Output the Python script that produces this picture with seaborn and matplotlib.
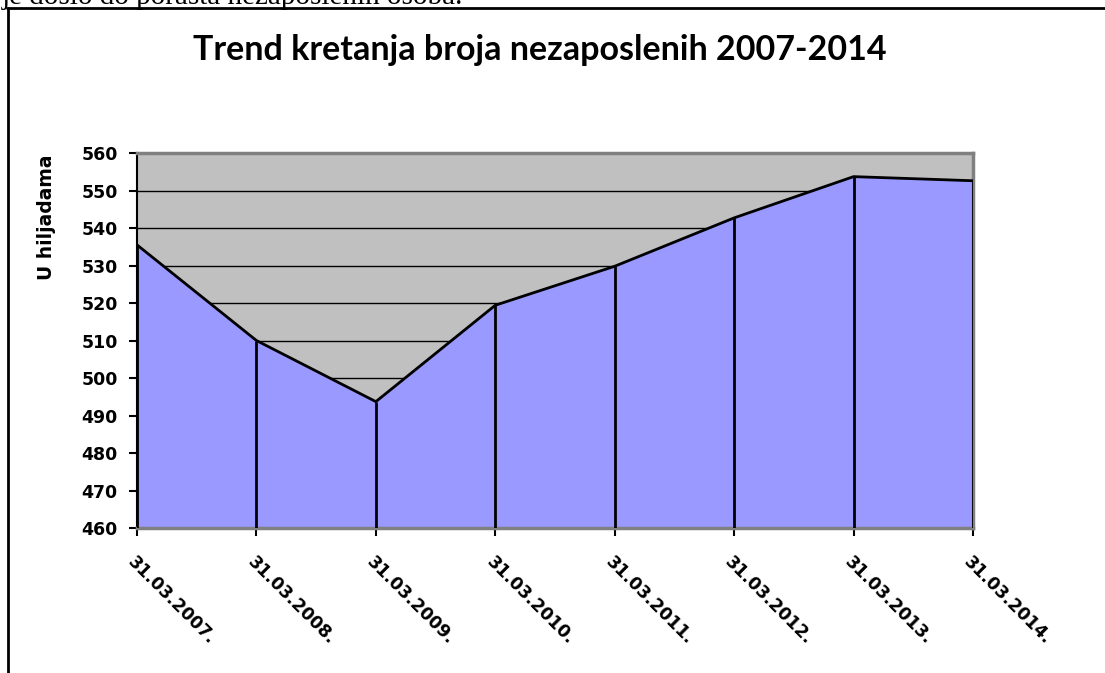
import matplotlib
matplotlib.use("Agg")
import matplotlib.pyplot as plt
import seaborn as sns
import pandas as pd
from matplotlib.lines import Line2D

dates = ["31.03.2007.", "31.03.2008.", "31.03.2009.", "31.03.2010.",
         "31.03.2011.", "31.03.2012.", "31.03.2013.", "31.03.2014."]
values = [535.5, 510.0, 493.7, 519.4, 529.8, 542.7, 553.7, 552.6]
y_ticks = [460, 470, 480, 490, 500, 510, 520, 530, 540, 550, 560]

title = "Trend kretanja broja nezaposlenih 2007-2014"
ylabel = "U hiljadama"
top_text = "je došlo do porasta nezaposlenih osoba."

sns.set_theme(style="white")
plt.rcParams['font.family'] = ['DejaVu Sans']
plt.rcParams['text.color'] = 'black'
plt.rcParams['xtick.color'] = 'black'
plt.rcParams['ytick.color'] = 'black'
plt.rcParams['axes.labelcolor'] = 'black'

df = pd.DataFrame({"pos": list(range(len(dates))), "value": values})

fig = plt.figure(figsize=(11.05, 6.73), dpi=100)
ax = fig.add_axes([137/1105, 1-528/673, (973-137)/1105, (528-153)/673])
ax.set_facecolor("#C0C0C0")

# gridlines behind the fill
for t in y_ticks[1:-1]:
    ax.axhline(t, color="black", lw=1.0, zorder=1)

ax.fill_between(df["pos"], df["value"], y_ticks[0], color="#9999FF", zorder=2, lw=0)
ax.vlines(df["pos"], y_ticks[0], df["value"], color="black", lw=2, zorder=3)
sns.lineplot(data=df, x="pos", y="value", color="black", lw=2, ax=ax, zorder=4)

ax.set_xlim(0, len(dates) - 1)
ax.set_ylim(y_ticks[0], y_ticks[-1])
ax.set_yticks(y_ticks)
ax.set_yticklabels([str(t) for t in y_ticks], fontsize=12.5, fontweight="bold")
ax.set_xticks(df["pos"])
ax.set_xticklabels(dates, rotation=-45, ha="left", va="top",
                   rotation_mode="anchor", fontsize=12.5, fontweight="bold")
ax.tick_params(axis="both", direction="out", length=6, width=1.5, color="black",
               left=True, bottom=True, labelcolor="black")
ax.tick_params(axis="x", pad=12)
ax.tick_params(axis="y", pad=8)
ax.set_xlabel("")
ax.set_ylabel("")
for s in ax.spines.values():
    s.set_color("#808080")
    s.set_linewidth(2.5)
    s.set_visible(True)
ax.spines["left"].set_color("black")
ax.spines["left"].set_linewidth(1.5)

fig.text(540/1105, 1-50/673, title, ha="center", va="center", color="black",
         fontsize=24.5, fontweight="bold", family=["Lato", "DejaVu Sans"])
fig.text(47/1105, 1-217/673, ylabel, rotation=90, ha="center", va="center",
         color="black", fontsize=13.5, fontweight="bold", family=["DejaVu Sans"])
fig.text(0.002, 1-4/673, top_text, ha="left", va="baseline", fontsize=21,
         color="black", family=["Liberation Serif", "DejaVu Serif"])

# outer frame (top and left)
fig.add_artist(Line2D([7/1105, 1.0], [1-8/673, 1-8/673], color="black", lw=2,
                      transform=fig.transFigure))
fig.add_artist(Line2D([8/1105, 8/1105], [1-8/673, 0.0], color="black", lw=2,
                      transform=fig.transFigure))

fig.savefig("out.png", dpi=100, facecolor="white")
